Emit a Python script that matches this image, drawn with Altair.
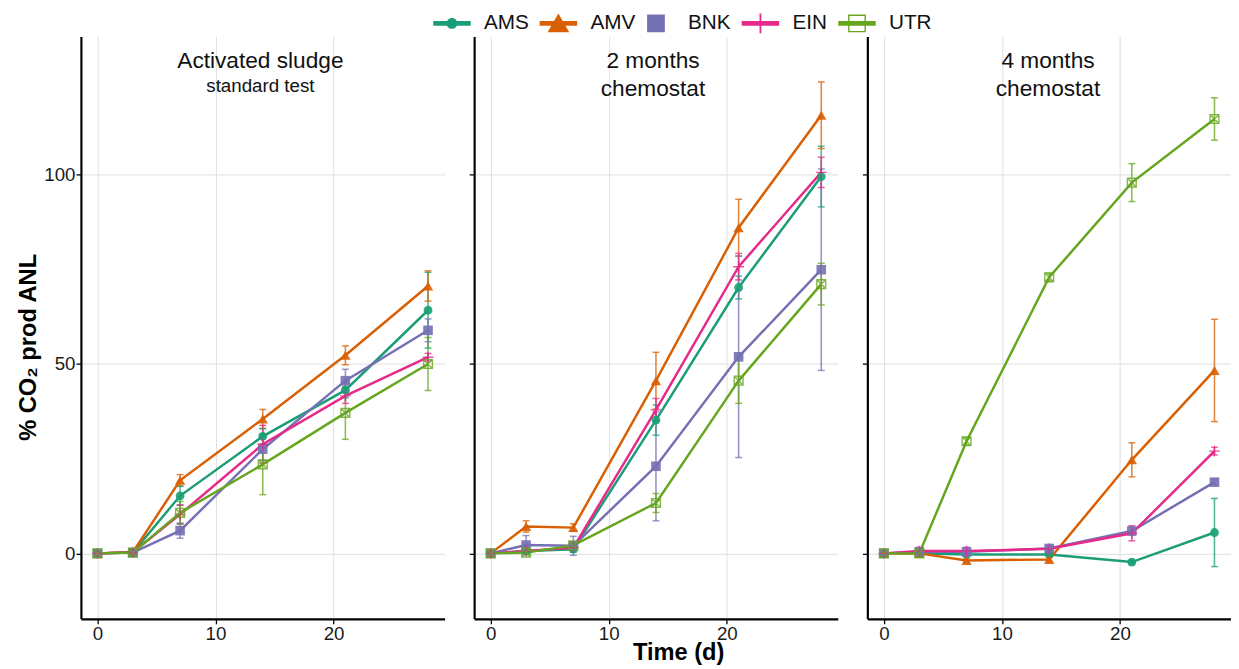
import altair as alt
import pandas as pd

# ---------------- data ----------------
times = [0, 3, 7, 14, 21, 28]
series = ["AMS", "AMV", "BNK", "EIN", "UTR"]
colors = ["#1B9E77", "#D95F02", "#7570B3", "#E7298A", "#66A61E"]
panels = ["Activated sludge", "2 months chemostat", "4 months chemostat"]

# panel 1: activated sludge, standard test (mean, sd)
p1_AMS = [0, 0.2, 15.2, 30.9, 43.1, 64.2]
p1_AMS_sd = [0.5, 0.5, 2.5, 2.0, 2.0, 10.0]
p1_AMV = [0, 0.3, 19.3, 35.5, 52.3, 70.6]
p1_AMV_sd = [0.5, 0.5, 1.5, 2.5, 2.5, 4.0]
p1_BNK = [0, 0.2, 6.0, 27.5, 45.6, 58.9]
p1_BNK_sd = [0.5, 0.5, 2.0, 3.0, 3.0, 3.0]
p1_EIN = [0, 0.3, 10.3, 28.8, 41.6, 51.8]
p1_EIN_sd = [0.5, 0.5, 2.5, 5.0, 2.0, 1.0]
p1_UTR = [0, 0.2, 10.7, 23.5, 37.1, 50.0]
p1_UTR_sd = [0.5, 0.5, 3.0, 8.0, 7.0, 7.0]

# panel 2: 2 months chemostat
p2_AMS = [0, 0.6, 1.1, 35.2, 70.2, 99.5]
p2_AMS_sd = [0.3, 0.5, 0.8, 4.0, 3.0, 8.0]
p2_AMV = [0, 7.1, 6.8, 45.6, 86.0, 115.7]
p2_AMV_sd = [0.3, 1.5, 1.0, 7.5, 7.5, 8.8]
p2_BNK = [0, 2.2, 2.0, 23.0, 51.9, 74.9]
p2_BNK_sd = [0.3, 2.5, 2.5, 14.4, 26.6, 26.6]
p2_EIN = [0, 0.6, 1.5, 37.9, 75.7, 100.6]
p2_EIN_sd = [0.3, 0.5, 0.8, 3.0, 3.5, 4.0]
p2_UTR = [0, 0.2, 2.1, 13.3, 45.6, 71.1]
p2_UTR_sd = [0.3, 0.3, 0.5, 2.5, 6.0, 5.5]

# panel 3: 4 months chemostat
p3_AMS = [0, 0.0, -0.3, -0.3, -2.3, 5.5]
p3_AMS_sd = [0.2, 0.2, 0.3, 0.3, 0.5, 9.0]
p3_AMV = [0, 0.0, -1.9, -1.6, 24.7, 48.3]
p3_AMV_sd = [0.2, 0.2, 0.5, 0.5, 4.5, 13.5]
p3_BNK = [0, 0.4, 0.4, 1.3, 5.9, 18.8]
p3_BNK_sd = [0.2, 0.3, 0.3, 0.5, 1.0, 0.7]
p3_EIN = [0, 0.6, 0.6, 1.2, 5.3, 27.0]
p3_EIN_sd = [0.2, 1.0, 1.0, 0.8, 2.0, 1.0]
p3_UTR = [0, 0.0, 29.6, 72.9, 97.9, 114.7]
p3_UTR_sd = [0.2, 0.3, 1.0, 1.0, 5.0, 5.6]

# in-panel titles
label_panel = ["Activated sludge", "Activated sludge", "2 months chemostat",
               "2 months chemostat", "4 months chemostat", "4 months chemostat"]
label_text = ["Activated sludge", "standard test", "2 months", "chemostat", "4 months", "chemostat"]
label_x = [13.8, 13.8, 13.75, 13.75, 13.9, 13.9]
label_y = [130.0, 123.3, 130.0, 122.5, 130.0, 122.5]
label_size = [23, 19, 23, 23, 23, 23]

x_ticks = [0, 10, 20]
y_ticks = [0, 50, 100]

# ---------------- tables ----------------
means = {
    panels[0]: [p1_AMS, p1_AMV, p1_BNK, p1_EIN, p1_UTR],
    panels[1]: [p2_AMS, p2_AMV, p2_BNK, p2_EIN, p2_UTR],
    panels[2]: [p3_AMS, p3_AMV, p3_BNK, p3_EIN, p3_UTR],
}
sds = {
    panels[0]: [p1_AMS_sd, p1_AMV_sd, p1_BNK_sd, p1_EIN_sd, p1_UTR_sd],
    panels[1]: [p2_AMS_sd, p2_AMV_sd, p2_BNK_sd, p2_EIN_sd, p2_UTR_sd],
    panels[2]: [p3_AMS_sd, p3_AMV_sd, p3_BNK_sd, p3_EIN_sd, p3_UTR_sd],
}
rows = []
for p in panels:
    for s, m_list, sd_list in zip(series, means[p], sds[p]):
        for t, m, sd in zip(times, m_list, sd_list):
            rows.append({"panel": p, "series": s, "t": t, "mean": m,
                         "lo": m - sd, "hi": m + sd})
df = pd.DataFrame(rows)
lab = pd.DataFrame({"panel": label_panel, "label": label_text,
                    "t": label_x, "mean": label_y, "fs": label_size})

FONT = "Liberation Sans"

# legend glyphs (line + marker), unit = 10 px, all drawn clockwise
LINE = "M-1.9,-0.23H1.9V0.23H-1.9Z"
leg_paths = [
    LINE + "M-0.55,0A0.55,0.55,0,1,1,0.55,0A0.55,0.55,0,1,1,-0.55,0Z",
    LINE + "M0,-1L1.1,0.9L-1.1,0.9Z",
    "M-0.9,-0.9H0.9V0.9H-0.9Z",
    LINE + "M-0.09,-1H0.09V1H-0.09Z",
    LINE + "M-0.9,-0.9H0.9V0.9H-0.9ZM-0.76,-0.76V0.76H0.76V-0.76Z",
]
# plot markers: (shape, size, filled)
markers = {
    "AMS": ("circle", 80, True),
    "AMV": ("triangle-up", 110, True),
    "BNK": ("square", 95, True),
    "EIN": ("M-1,0L1,0M0,-1L0,1", 120, False),
    "UTR": ("M-1,-1L1,-1L1,1L-1,1ZM-1,-1L1,1M1,-1L-1,1", 80, False),
}

legend = alt.Legend(
    orient="none", legendX=366, legendY=-24, direction="horizontal",
    title=None, symbolSize=400, labelFontSize=21, labelFont=FONT,
    labelColor="#111111", labelOffset=22, columnPadding=10, padding=0,
    symbolStrokeWidth=0, symbolOpacity=1,
)

color = alt.Color("series:N", scale=alt.Scale(domain=series, range=colors), legend=legend)
shape = alt.Shape("series:N", scale=alt.Scale(domain=series, range=leg_paths), legend=legend)

xs = alt.Scale(domain=[-1.4, 29.4], nice=False, zero=False)
ys = alt.Scale(domain=[-17.3, 136.5], nice=False, zero=False)


def panel(name, first, middle):
    xax = alt.Axis(values=x_ticks, title="Time (d)" if middle else None,
                   titleX=207)
    yax = alt.Axis(values=y_ticks, labels=first,
                   title="% CO₂ prod ANL" if first else None, titleY=315)
    X = alt.X("t:Q", scale=xs, axis=xax)
    Y = alt.Y("mean:Q", scale=ys, axis=yax)
    Ylo = alt.Y("lo:Q", scale=ys, axis=yax)
    Yhi = alt.Y("hi:Q", scale=ys, axis=yax)
    base = alt.Chart(df).transform_filter(alt.datum.panel == name)

    # empty layer that only carries the legend (colour + glyph)
    leg = base.transform_filter("datum.t < -100").mark_point(filled=True).encode(
        x=X, y=Y, color=color, shape=shape)

    lines = base.mark_line(strokeWidth=2.5).encode(x=X, y=Y, color=color)
    rules = base.mark_rule(strokeWidth=1.6, opacity=0.75).encode(
        x=X, y=Ylo, y2="hi:Q", color=color)
    cap_lo = base.mark_tick(orient="horizontal", size=7, thickness=1.5, opacity=0.75).encode(
        x=X, y=Ylo, color=color)
    cap_hi = base.mark_tick(orient="horizontal", size=7, thickness=1.5, opacity=0.75).encode(
        x=X, y=Yhi, color=color)
    pts = []
    for s in series:
        shp, sz, fl = markers[s]
        if fl:
            m = base.transform_filter(alt.datum.series == s).mark_point(
                shape=shp, size=sz, filled=True, opacity=0.9)
        else:
            m = base.transform_filter(alt.datum.series == s).mark_point(
                shape=shp, size=sz, filled=False, strokeWidth=1.4, opacity=0.8)
        pts.append(m.encode(x=X, y=Y, color=color))
    text = alt.Chart(lab).transform_filter(alt.datum.panel == name).mark_text(
        font=FONT, color="#111111", baseline="middle", align="center"
    ).encode(x=X, y=Y, text="label:N", size=alt.Size("fs:Q", scale=None, legend=None))

    return alt.layer(leg, rules, cap_lo, cap_hi, lines, *pts, text).properties(
        width=369, height=591)


chart = alt.hconcat(
    panel(panels[0], True, False),
    panel(panels[1], False, True),
    panel(panels[2], False, False),
    spacing=24,
).properties(
    padding={"left": 9, "top": 0, "right": 0, "bottom": 0}
).configure(
    font=FONT,
).configure_view(
    stroke=None
).configure_axis(
    labelFont=FONT, labelFontSize=19, labelColor="#1a1a1a", labelPadding=1,
    titleFont=FONT, titleFontSize=24, titleFontWeight="bold", titleColor="#000000",
    domainColor="#000000", domainWidth=2.2, tickColor="#000000", tickSize=5,
    tickWidth=1.3, gridColor="#DEDEDE", gridWidth=1,
).configure_axisX(
    titlePadding=-3, labelAngle=0,
).configure_axisY(
    titlePadding=3,
)

chart.save("out.html", embed_options={"renderer": "svg", "actions": False})
